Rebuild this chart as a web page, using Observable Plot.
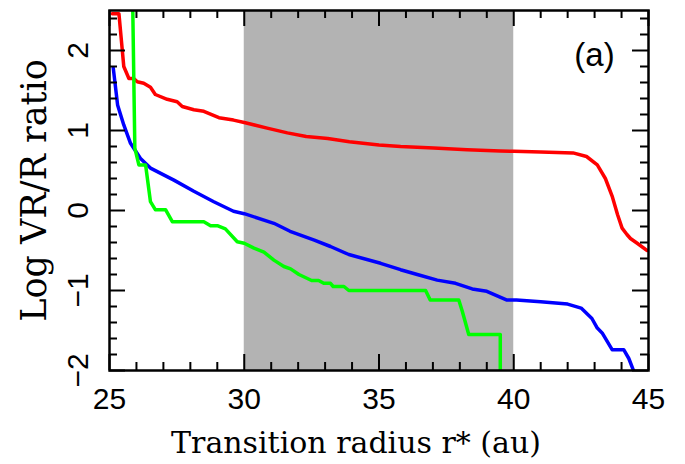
<!DOCTYPE html>
<html><head><meta charset="utf-8">
<script src="https://cdn.jsdelivr.net/npm/d3@7"></script>
<script src="https://cdn.jsdelivr.net/npm/@observablehq/plot@0.6"></script>
<style>body{margin:0;background:#fff}</style>
</head><body><div id="chart"></div>
<script>
const redX=[25.1,25.35,25.53,25.72,25.9,26.03,26.27,26.52,26.7,27.14,27.51,27.7,28.13,28.5,29.06,29.6,30.0,30.85,31.6,32.3,33.1,33.9,35.0,35.8,37.03,38.27,39.5,40.0,41.0,42.2,42.7,43.1,43.4,43.65,43.85,44.02,44.2,44.33,44.58,44.95];
const redY=[2.46,2.46,1.8,1.65,1.65,1.61,1.59,1.54,1.45,1.39,1.36,1.30,1.26,1.24,1.16,1.13,1.10,1.03,0.97,0.925,0.90,0.86,0.82,0.80,0.78,0.76,0.745,0.74,0.73,0.72,0.675,0.57,0.40,0.18,-0.05,-0.22,-0.30,-0.35,-0.41,-0.50];
const blueX=[25.14,25.3,25.53,25.78,26.15,26.52,27.39,28.13,28.87,29.6,30.0,31.1,31.7,32.6,33.2,33.88,35.06,35.8,36.42,37.16,37.84,38.46,39.0,39.75,40.1,41.0,42.0,42.5,42.9,43.1,43.28,43.65,44.08,44.27,44.5];
const blueY=[1.78,1.32,1.07,0.84,0.65,0.53,0.38,0.24,0.11,-0.01,-0.04,-0.16,-0.26,-0.37,-0.45,-0.55,-0.66,-0.74,-0.80,-0.87,-0.91,-0.98,-1.01,-1.12,-1.12,-1.14,-1.17,-1.22,-1.35,-1.47,-1.53,-1.74,-1.74,-1.85,-2.05];
const greenX=[25.86,25.94,26.09,26.34,26.52,26.7,27.08,27.33,28.5,28.75,29.0,29.3,29.74,30.0,30.36,30.73,31.1,31.47,31.72,32.03,32.5,32.76,32.95,33.2,33.3,33.7,33.88,36.73,36.9,37.96,38.09,38.33,39.5,39.5];
const greenY=[2.6,0.78,0.57,0.57,0.11,0.01,0.01,-0.14,-0.14,-0.19,-0.19,-0.23,-0.39,-0.41,-0.47,-0.52,-0.62,-0.70,-0.73,-0.80,-0.875,-0.875,-0.91,-0.91,-0.95,-0.95,-1.0,-1.0,-1.12,-1.12,-1.26,-1.55,-1.55,-2.1];
const bandStart=30, bandEnd=40;
const xMajor=[25,30,35,40,45];
const xTickLabels=["25","30","35","40","45"];
const xMinor=[26,27,28,29,31,32,33,34,36,37,38,39,41,42,43,44];
const yMajor=[-2,-1,0,1,2];
const yTickLabels=["\u22122","\u22121","0","1","2"];
const yMinor=[-1.8,-1.6,-1.4,-1.2,-0.8,-0.6,-0.4,-0.2,0.2,0.4,0.6,0.8,1.2,1.4,1.6,1.8,2.2,2.4];
const xTitle="Transition radius r* (au)";
const yTitle="Log VR/R ratio";
const panelLabel="(a)";

const toRows=(xs,ys)=>xs.map((x,i)=>({x,y:ys[i]}));
const W=685,H=464,mL=109,mR=37,mT=10,mB=94;
const fw=W-mL-mR, fh=H-mT-mB;
const major=16, minor=8;

const chart=Plot.plot({
  width:W,height:H,marginLeft:mL,marginRight:mR,marginTop:mT,marginBottom:mB,
  x:{domain:[25,45],axis:null},
  y:{domain:[-2,2.5],axis:null},
  style:{background:"#fff"},
  marks:[
    Plot.rect([{x1:bandStart,x2:bandEnd}],{x1:"x1",x2:"x2",fill:"#b3b3b3"}),
    Plot.line(toRows(redX,redY),{x:"x",y:"y",stroke:"#ff0000",strokeWidth:3.5,clip:true,strokeLinejoin:"round"}),
    Plot.line(toRows(blueX,blueY),{x:"x",y:"y",stroke:"#0000ff",strokeWidth:3.5,clip:true,strokeLinejoin:"round"}),
    Plot.line(toRows(greenX,greenY),{x:"x",y:"y",stroke:"#00ff00",strokeWidth:3.5,clip:true,strokeLinejoin:"round"}),
    Plot.tickX(xMajor,{x:d=>d,insetTop:fh-major,stroke:"black",strokeWidth:2}),
    Plot.tickX(xMajor,{x:d=>d,insetBottom:fh-major,stroke:"black",strokeWidth:2}),
    Plot.tickX(xMinor,{x:d=>d,insetTop:fh-minor,stroke:"black",strokeWidth:2}),
    Plot.tickX(xMinor,{x:d=>d,insetBottom:fh-minor,stroke:"black",strokeWidth:2}),
    Plot.tickY(yMajor,{y:d=>d,insetRight:fw-major,stroke:"black",strokeWidth:2}),
    Plot.tickY(yMajor,{y:d=>d,insetLeft:fw-major,stroke:"black",strokeWidth:2}),
    Plot.tickY(yMinor,{y:d=>d,insetRight:fw-minor,stroke:"black",strokeWidth:2}),
    Plot.tickY(yMinor,{y:d=>d,insetLeft:fw-minor,stroke:"black",strokeWidth:2}),
    Plot.frame({stroke:"black",strokeWidth:2.5}),
    Plot.text(xMajor,{x:d=>d,text:(d,i)=>xTickLabels[i],frameAnchor:"bottom",dy:29,fontSize:30,fontFamily:"Liberation Sans",textAnchor:"middle",lineAnchor:"middle",fill:"black"}),
    Plot.text(yMajor,{y:d=>d,text:(d,i)=>yTickLabels[i],frameAnchor:"left",dx:-31,rotate:-90,fontSize:30,fontFamily:"Liberation Sans",textAnchor:"middle",lineAnchor:"middle",fill:"black"}),
    Plot.text([xTitle],{text:d=>d,frameAnchor:"bottom",dx:-23,dy:73,fontSize:30,fontFamily:"DejaVu Serif",textAnchor:"middle",lineAnchor:"middle",fill:"black"}),
    Plot.text([yTitle],{text:d=>d,frameAnchor:"left",dx:-75,rotate:-90,fontSize:35,fontFamily:"DejaVu Serif",textAnchor:"middle",lineAnchor:"middle",fill:"black"}),
    Plot.text([panelLabel],{text:d=>d,frameAnchor:"top-right",dx:-54,dy:45,fontSize:33,fontFamily:"Liberation Sans",textAnchor:"middle",lineAnchor:"middle",fill:"black"})
  ]
});
document.getElementById("chart").appendChild(chart);
</script></body></html>
